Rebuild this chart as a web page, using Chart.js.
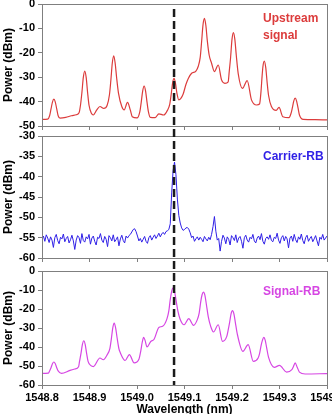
<!DOCTYPE html>
<html>
<head>
<meta charset="utf-8">
<script src="https://cdn.jsdelivr.net/npm/chart.js@4.4.1/dist/chart.umd.min.js"></script>
<style>
  html, body { margin: 0; padding: 0; background: #fff; }
  body { width: 332px; height: 414px; overflow: hidden; position: relative; }
  canvas { position: absolute; left: 0; top: 0; }
</style>
</head>
<body>
<canvas id="upstream" width="360" height="420"></canvas>
<canvas id="carrier" width="360" height="420"></canvas>
<canvas id="signalrb" width="360" height="420"></canvas>
<script>
// wavelength (nm) / power (dBm)
const upWl = [1548.800, 1548.812, 1548.816, 1548.819, 1548.822, 1548.825, 1548.828, 1548.831, 1548.834, 1548.838,
  1548.850, 1548.862, 1548.872, 1548.878, 1548.881, 1548.884, 1548.887, 1548.890, 1548.893, 1548.896,
  1548.899, 1548.904, 1548.908, 1548.915, 1548.922, 1548.930, 1548.937, 1548.942, 1548.945, 1548.948,
  1548.951, 1548.954, 1548.957, 1548.961, 1548.968, 1548.973, 1548.980, 1548.986, 1548.990, 1549.000,
  1549.006, 1549.009, 1549.012, 1549.015, 1549.018, 1549.021, 1549.024, 1549.028, 1549.038, 1549.046,
  1549.056, 1549.064, 1549.069, 1549.072, 1549.075, 1549.078, 1549.081, 1549.084, 1549.088, 1549.092,
  1549.097, 1549.103, 1549.108, 1549.115, 1549.124, 1549.129, 1549.133, 1549.136, 1549.139, 1549.142,
  1549.145, 1549.148, 1549.152, 1549.157, 1549.163, 1549.171, 1549.178, 1549.185, 1549.192, 1549.194,
  1549.197, 1549.200, 1549.203, 1549.206, 1549.209, 1549.213, 1549.222, 1549.232, 1549.241, 1549.252,
  1549.258, 1549.261, 1549.263, 1549.265, 1549.268, 1549.271, 1549.274, 1549.277, 1549.283, 1549.293,
  1549.299, 1549.307, 1549.320, 1549.324, 1549.327, 1549.330, 1549.333, 1549.336, 1549.339, 1549.342,
  1549.350, 1549.375, 1549.400];
const upDbm = [-47.3, -47.2, -45.8, -43.0, -40.2, -39.0, -40.2, -43.0, -45.8, -46.8,
  -46.5, -45.8, -45.4, -44.6, -41.5, -36.3, -30.1, -27.5, -30.1, -36.3,
  -41.5, -44.8, -45.5, -43.5, -42.0, -42.8, -41.6, -37.2, -31.2, -24.2,
  -21.2, -24.2, -30.0, -36.5, -42.0, -43.4, -40.3, -43.5, -46.2, -46.7,
  -44.1, -40.1, -35.6, -33.6, -35.6, -40.1, -44.1, -46.5, -46.6, -45.0,
  -45.5, -43.6, -41.0, -37.0, -32.3, -30.5, -32.5, -36.5, -39.3, -38.8,
  -37.0, -33.0, -30.5, -28.4, -27.5, -25.5, -22.0, -15.5, -8.5, -5.9,
  -8.8, -15.0, -21.0, -24.3, -27.7, -25.0, -31.1, -32.5, -31.9, -28.0,
  -22.0, -14.5, -11.7, -14.5, -21.0, -28.4, -34.6, -31.4, -39.3, -41.4,
  -41.0, -36.0, -30.5, -25.8, -23.4, -26.0, -32.2, -37.5, -42.0, -43.6,
  -42.4, -46.2, -46.6, -45.0, -42.6, -39.8, -38.6, -39.8, -42.6, -45.5,
  -47.3, -47.4, -47.5];

const carrierWl = [1548.800, 1548.803, 1548.806, 1548.809, 1548.812, 1548.815, 1548.818, 1548.821, 1548.824, 1548.827,
  1548.830, 1548.833, 1548.836, 1548.839, 1548.842, 1548.845, 1548.848, 1548.851, 1548.854, 1548.857,
  1548.860, 1548.863, 1548.866, 1548.869, 1548.872, 1548.875, 1548.878, 1548.881, 1548.884, 1548.887,
  1548.890, 1548.893, 1548.896, 1548.899, 1548.902, 1548.905, 1548.908, 1548.911, 1548.914, 1548.917,
  1548.920, 1548.923, 1548.926, 1548.929, 1548.932, 1548.935, 1548.938, 1548.941, 1548.944, 1548.947,
  1548.950, 1548.953, 1548.956, 1548.959, 1548.962, 1548.965, 1548.968, 1548.971, 1548.974, 1548.977,
  1548.980, 1548.983, 1548.986, 1548.989, 1548.992, 1548.995, 1548.998, 1549.001, 1549.004, 1549.007,
  1549.010, 1549.013, 1549.016, 1549.019, 1549.022, 1549.025, 1549.028, 1549.031, 1549.034, 1549.037,
  1549.040, 1549.043, 1549.046, 1549.049, 1549.052, 1549.055, 1549.058, 1549.061, 1549.064, 1549.067,
  1549.070, 1549.073, 1549.076, 1549.079, 1549.082, 1549.085, 1549.088, 1549.091, 1549.094, 1549.097,
  1549.100, 1549.103, 1549.106, 1549.109, 1549.112, 1549.115, 1549.118, 1549.121, 1549.124, 1549.127,
  1549.130, 1549.133, 1549.136, 1549.139, 1549.142, 1549.145, 1549.148, 1549.151, 1549.154, 1549.157,
  1549.160, 1549.163, 1549.166, 1549.169, 1549.172, 1549.175, 1549.178, 1549.181, 1549.184, 1549.187,
  1549.190, 1549.193, 1549.196, 1549.199, 1549.202, 1549.205, 1549.208, 1549.211, 1549.214, 1549.217,
  1549.220, 1549.223, 1549.226, 1549.229, 1549.232, 1549.235, 1549.238, 1549.241, 1549.244, 1549.247,
  1549.250, 1549.253, 1549.256, 1549.259, 1549.262, 1549.265, 1549.268, 1549.271, 1549.274, 1549.277,
  1549.280, 1549.283, 1549.286, 1549.289, 1549.292, 1549.295, 1549.298, 1549.301, 1549.304, 1549.307,
  1549.310, 1549.313, 1549.316, 1549.319, 1549.322, 1549.325, 1549.328, 1549.331, 1549.334, 1549.337,
  1549.340, 1549.343, 1549.346, 1549.349, 1549.352, 1549.355, 1549.358, 1549.361, 1549.364, 1549.367,
  1549.370, 1549.373, 1549.376, 1549.379, 1549.382, 1549.385, 1549.388, 1549.391, 1549.394, 1549.397,
  1549.400];
const carrierDbm = [-55.4, -54.6, -55.9, -54.3, -55.1, -56.2, -54.8, -55.6, -57.4, -55.0,
  -54.2, -55.7, -56.5, -54.9, -55.3, -54.1, -56.0, -55.2, -54.7, -56.3,
  -55.5, -54.4, -55.8, -57.9, -55.6, -54.5, -55.0, -56.4, -54.0, -55.7,
  -56.1, -54.8, -55.3, -54.2, -56.6, -55.1, -54.6, -55.9, -56.8, -54.9,
  -55.2, -54.0, -55.6, -56.2, -54.7, -55.4, -57.2, -54.5, -55.0, -55.8,
  -54.3, -56.0, -55.5, -54.8, -57.0, -55.3, -54.4, -55.7, -56.3, -54.6,
  -55.1, -54.5, -54.2, -53.6, -53.0, -52.8, -53.5, -54.6, -55.8, -55.2,
  -56.1, -55.4, -54.7, -55.9, -56.4, -55.0, -54.5, -55.6, -54.9, -54.3,
  -55.2, -54.6, -53.9, -54.8, -54.1, -53.7, -54.2, -53.5, -53.3, -53.0,
  -51.6, -44.0, -38.5, -36.4, -39.5, -45.5, -49.5, -51.4, -52.6, -53.2,
  -53.0, -52.6, -52.5, -52.9, -53.8, -55.0, -54.6, -55.9, -55.3, -54.8,
  -55.6, -54.9, -55.4, -56.0, -54.7, -55.3, -55.8, -54.9, -55.5, -54.2,
  -52.3, -49.8, -53.4, -55.6, -55.2, -58.3, -55.9, -54.4, -55.1, -56.5,
  -54.8, -55.4, -56.8, -54.5, -55.0, -55.7, -54.3, -56.2, -55.1, -54.7,
  -55.9, -57.6, -55.0, -54.4, -55.6, -56.1, -54.9, -55.3, -54.2, -55.8,
  -56.3, -55.1, -54.6, -55.5, -54.0, -55.9, -56.6, -55.2, -54.8, -55.4,
  -54.3, -55.7, -56.0, -54.9, -55.2, -53.9, -55.6, -56.4, -55.0, -54.5,
  -55.8, -54.7, -55.3, -57.5, -55.1, -54.6, -55.9, -54.2, -55.5, -56.2,
  -54.8, -55.4, -54.1, -55.7, -56.5, -55.0, -54.4, -55.9, -55.2, -54.7,
  -56.0, -55.3, -54.5, -55.8, -57.0, -54.9, -55.4, -54.2, -55.6, -55.1,
  -54.6];

const sigWl = [1548.800, 1548.813, 1548.816, 1548.819, 1548.822, 1548.825, 1548.828, 1548.831, 1548.834, 1548.841,
  1548.859, 1548.869, 1548.877, 1548.879, 1548.882, 1548.885, 1548.888, 1548.891, 1548.894, 1548.897,
  1548.903, 1548.908, 1548.922, 1548.929, 1548.937, 1548.943, 1548.946, 1548.949, 1548.952, 1548.955,
  1548.958, 1548.962, 1548.964, 1548.975, 1548.984, 1548.994, 1549.004, 1549.008, 1549.011, 1549.014,
  1549.017, 1549.021, 1549.029, 1549.036, 1549.046, 1549.054, 1549.063, 1549.067, 1549.070, 1549.073,
  1549.076, 1549.079, 1549.082, 1549.086, 1549.091, 1549.099, 1549.109, 1549.119, 1549.127, 1549.131,
  1549.134, 1549.137, 1549.140, 1549.143, 1549.146, 1549.150, 1549.155, 1549.161, 1549.171, 1549.180,
  1549.189, 1549.192, 1549.195, 1549.198, 1549.201, 1549.204, 1549.207, 1549.211, 1549.223, 1549.234,
  1549.245, 1549.255, 1549.258, 1549.261, 1549.264, 1549.267, 1549.270, 1549.273, 1549.277, 1549.289,
  1549.300, 1549.315, 1549.326, 1549.329, 1549.333, 1549.337, 1549.342, 1549.354, 1549.400];
const sigDbm = [-53.9, -53.8, -52.6, -50.9, -48.8, -47.9, -48.8, -50.9, -52.6, -53.9,
  -52.3, -51.6, -50.4, -47.6, -43.5, -38.7, -36.7, -38.7, -43.5, -47.6,
  -49.8, -50.3, -45.8, -46.7, -44.2, -40.7, -35.7, -29.9, -27.4, -29.9,
  -35.0, -41.0, -42.5, -47.1, -44.0, -48.4, -46.5, -42.0, -37.5, -34.9,
  -36.5, -40.0, -37.1, -35.9, -29.7, -29.1, -25.2, -21.0, -15.0, -10.7,
  -8.9, -10.7, -15.0, -21.0, -25.5, -28.3, -25.1, -28.6, -25.6, -22.0,
  -16.5, -12.5, -11.1, -12.8, -17.5, -24.0, -29.0, -32.1, -28.3, -37.0,
  -34.4, -31.0, -27.0, -22.6, -20.9, -22.6, -27.0, -33.0, -42.3, -38.8,
  -47.6, -45.8, -43.5, -39.5, -36.5, -34.9, -36.5, -40.5, -45.5, -50.7,
  -49.7, -53.2, -51.9, -50.5, -48.4, -50.5, -53.2, -54.2, -54.0];

const wlTicks = [1548.8, 1548.9, 1549.0, 1549.1, 1549.2, 1549.3, 1549.4];
const upTicks = [0, -10, -20, -30, -40, -50];
const carrierTicks = [-30, -35, -40, -45, -50, -55, -60];
const sigTicks = [0, -10, -20, -30, -40, -50, -60];
const markerWl = 1549.078;

const tickFont = {family: 'Liberation Sans, Arial, sans-serif', size: 11, weight: 'bold'};
const titleFont = {family: 'Liberation Sans, Arial, sans-serif', size: 12, weight: 'bold'};

// frame round the plot + the coloured caption inside it
const frame = {
  id: 'frame',
  afterDatasetsDraw(chart, args, opts) {
    const {ctx, chartArea: a} = chart;
    ctx.save();
    ctx.strokeStyle = '#7f7f7f';
    ctx.lineWidth = 1;
    ctx.strokeRect(a.left + 0.5, a.top + 0.5, a.right - a.left, a.bottom - a.top);
    ctx.fillStyle = opts.color;
    ctx.font = 'bold 12px "Liberation Sans", Arial, sans-serif';
    ctx.textBaseline = 'middle';
    opts.lines.forEach((t, i) => ctx.fillText(t, 263, opts.y + i * 17));
    ctx.restore();
  }
};

const charts = [];

// dashed marker through all three panels
const marker = {
  id: 'marker',
  afterDraw(chart) {
    const {ctx} = chart;
    const x = chart.scales.x.getPixelForValue(markerWl);
    ctx.save();
    ctx.strokeStyle = '#1a1a1a';
    ctx.lineWidth = 2.5;
    ctx.setLineDash([8, 4]);
    ctx.beginPath();
    ctx.moveTo(x, charts[0].chartArea.top + 5);
    ctx.lineTo(x, chart.chartArea.bottom);
    ctx.stroke();
    ctx.restore();
  }
};

function makeChart(id, data, color, smooth, yMin, yMax, yTicks, padTop, padBottom, showX, caption, captionY, plugins) {
  const c = new Chart(document.getElementById(id), {
    type: 'line',
    data: {
      datasets: [{
        data: data,
        borderColor: color,
        borderWidth: smooth ? 1.2 : 1,
        pointRadius: 0,
        fill: false,
        cubicInterpolationMode: smooth ? 'monotone' : 'default',
        tension: 0
      }]
    },
    options: {
      responsive: false,
      animation: false,
      devicePixelRatio: 1,
      layout: {padding: {top: padTop, bottom: padBottom, left: 0, right: 33}},
      plugins: {
        legend: {display: false},
        tooltip: {enabled: false},
        frame: {lines: caption, color: color, y: captionY}
      },
      scales: {
        x: {
          type: 'linear',
          min: 1548.8,
          max: 1549.4,
          afterBuildTicks: s => { s.ticks = wlTicks.map(v => ({value: v})); },
          afterFit: s => { s.height = showX ? 35 : 4; },
          border: {display: false},
          grid: {drawOnChartArea: false, tickLength: 4, color: '#7f7f7f'},
          ticks: {display: showX, autoSkip: false, maxRotation: 0, padding: 2, color: '#000', font: tickFont,
            callback: v => v.toFixed(1)},
          title: {display: showX, text: 'Wavelength (nm)', color: '#000', font: titleFont, padding: {top: 0, bottom: 3}}
        },
        y: {
          min: yMin,
          max: yMax,
          afterBuildTicks: s => { s.ticks = yTicks.map(v => ({value: v})); },
          afterFit: s => { s.width = 42; s.paddingTop = 0; s.paddingBottom = 0; },
          border: {display: false},
          grid: {drawOnChartArea: false, tickLength: 4, color: '#7f7f7f'},
          ticks: {padding: 3, color: '#000', font: tickFont, callback: v => String(v)},
          title: {display: true, text: 'Power (dBm)', color: '#000', font: titleFont, padding: {top: 1, bottom: 0}}
        }
      }
    },
    plugins: [frame].concat(plugins || [])
  });
  charts.push(c);
  return c;
}

makeChart('upstream', upWl.map((w, i) => ({x: w, y: upDbm[i]})), '#dc3c3c', true,
  -50, 0, upTicks, 4, 290, false, ['Upstream', 'signal'], 19);
makeChart('carrier', carrierWl.map((w, i) => ({x: w, y: carrierDbm[i]})), '#2f1fe6', false,
  -60, -30, carrierTicks, 136, 158, false, ['Carrier-RB'], 157);
makeChart('signalrb', sigWl.map((w, i) => ({x: w, y: sigDbm[i]})), '#d646e3', true,
  -60, 0, sigTicks, 271, 0, true, ['Signal-RB'], 292, [marker]);
</script>
</body>
</html>
